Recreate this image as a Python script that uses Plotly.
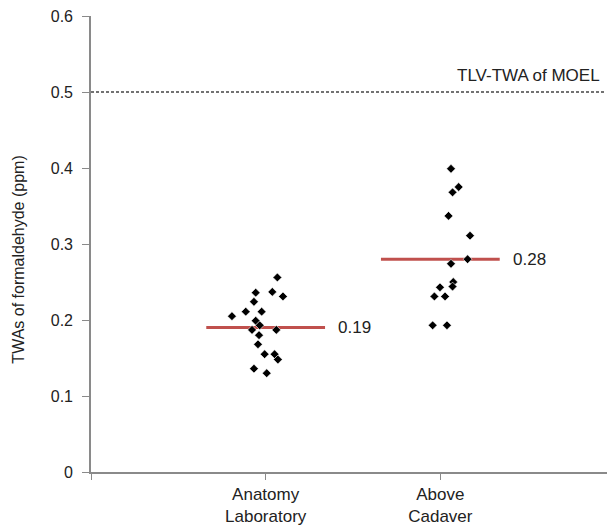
import plotly.graph_objects as go

categories = ["Anatomy<br>Laboratory", "Above<br>Cadaver"]
anatomy_values = [0.256, 0.236, 0.237, 0.231, 0.224, 0.205, 0.211, 0.211, 0.199, 0.193,
                  0.187, 0.187, 0.180, 0.168, 0.155, 0.155, 0.148, 0.136, 0.130]
anatomy_offsets = [0.067, -0.057, 0.038, 0.099, -0.067, -0.193, -0.114, -0.023, -0.057, -0.034,
                   -0.078, 0.061, -0.038, -0.044, -0.006, 0.051, 0.070, -0.067, 0.006]
cadaver_values = [0.399, 0.375, 0.368, 0.337, 0.311, 0.280, 0.274, 0.250, 0.244, 0.243,
                  0.231, 0.231, 0.193, 0.193]
cadaver_offsets = [0.061, 0.105, 0.070, 0.047, 0.170, 0.156, 0.061, 0.074, 0.070, -0.002,
                   -0.034, 0.027, -0.044, 0.038]
means = [0.19, 0.28]
limit_value = 0.5
limit_label = "TLV-TWA of MOEL"
y_ticks = [0, 0.1, 0.2, 0.3, 0.4, 0.5, 0.6]
y_tick_labels = ["0", "0.1", "0.2", "0.3", "0.4", "0.5", "0.6"]
y_title = "TWAs of formaldehyde (ppm)"

RED = "#c0504d"
GRAY = "#8a8a8a"
FONT = "Liberation Sans, Arial, sans-serif"

fig = go.Figure()

groups = [(anatomy_values, anatomy_offsets), (cadaver_values, cadaver_offsets)]

# TLV dashed line
fig.add_trace(go.Scatter(x=[0, 2.94], y=[limit_value, limit_value], mode="lines",
                         line=dict(color="#444444", width=1.3, dash="3px,2px"),
                         hoverinfo="skip"))

# mean lines
for i, m in enumerate(means):
    c = i + 1
    fig.add_trace(go.Scatter(x=[c - 0.34, c + 0.34], y=[m, m], mode="lines",
                             line=dict(color=RED, width=3), hoverinfo="skip"))

# points
for i, (vals, offs) in enumerate(groups):
    c = i + 1
    fig.add_trace(go.Scatter(x=[c + o for o in offs], y=vals, mode="markers",
                             marker=dict(symbol="diamond", size=6.8, color="black",
                                         line=dict(color="white", width=0.6))))

# mean labels
for i, m in enumerate(means):
    fig.add_annotation(x=i + 1 + 0.405, y=m, text=f"{m:.2f}", showarrow=False,
                       xanchor="left", yanchor="middle",
                       font=dict(family=FONT, size=17, color="#222222"))

fig.add_annotation(x=2.926, y=0.522, text=limit_label, showarrow=False,
                   xanchor="right", yanchor="middle",
                   font=dict(family=FONT, size=17, color="#222222"))

fig.add_annotation(xref="paper", yref="paper", x=-0.138, y=0.465, text=y_title,
                   textangle=-90, showarrow=False, xanchor="center", yanchor="middle",
                   font=dict(family=FONT, size=16, color="#222222"))

fig.update_layout(
    width=607, height=517,
    margin=dict(l=83, r=0, t=8, b=53),
    plot_bgcolor="white", paper_bgcolor="white",
    showlegend=False, hovermode=False,
    font=dict(family=FONT, color="#222222"),
)
fig.update_xaxes(range=[0, 3], tickvals=[0, 1, 2, 3], ticktext=[""] + categories + [""],
                 showgrid=False, zeroline=False, showline=True, linecolor=GRAY, linewidth=1.6,
                 ticks="outside", ticklen=6, tickcolor=GRAY, tickwidth=1.2,
                 tickfont=dict(family=FONT, size=17, color="#222222"))
fig.update_yaxes(range=[0, 0.6], tickvals=y_ticks, ticktext=y_tick_labels,
                 showgrid=False, zeroline=False, showline=True, linecolor=GRAY, linewidth=1.6,
                 ticks="outside", ticklen=7, tickcolor=GRAY, tickwidth=1.2,
                 ticklabelstandoff=6, ticklabeloverflow="allow",
                 tickfont=dict(family=FONT, size=16, color="#222222"))

fig.write_html("out.html")
